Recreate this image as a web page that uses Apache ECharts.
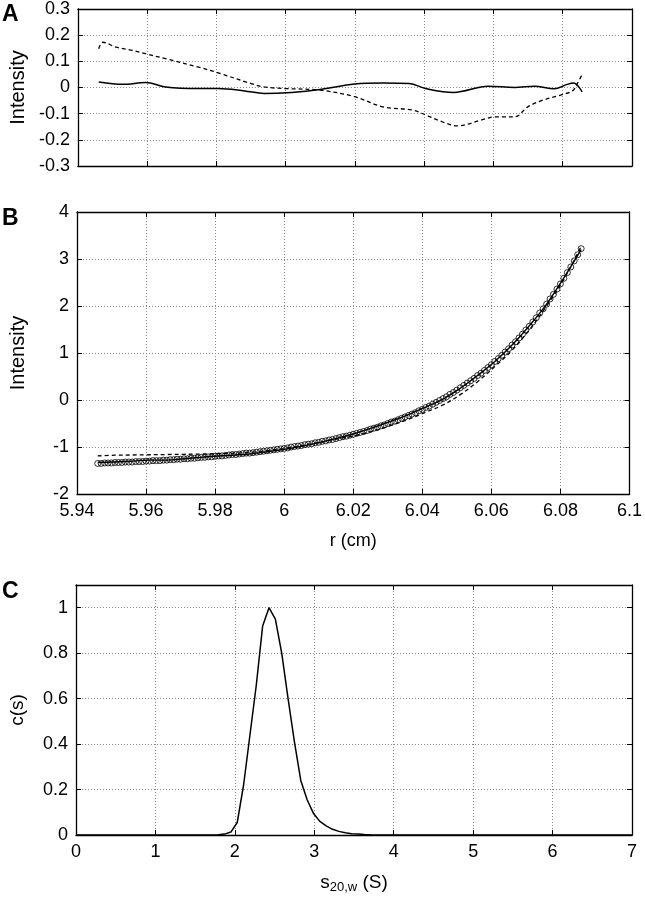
<!DOCTYPE html>
<html>
<head>
<meta charset="utf-8">
<script src="https://cdn.jsdelivr.net/npm/echarts@6/dist/echarts.min.js"></script>
<style>
  html, body { margin: 0; background: #fff; }
  #chart { width: 645px; height: 899px; }
</style>
</head>
<body>
<div id="chart"></div>
<script>
// ---- panel A: residuals of the two fits ----
const residSolidR = [5.946, 5.953, 5.9596, 5.9653, 5.9748, 5.9805, 5.9881, 5.9938, 6.0017, 6.0099, 6.0199,
  6.0281, 6.0357, 6.0404, 6.0485, 6.0585, 6.0661, 6.0718, 6.0775, 6.0813, 6.0831, 6.0856];
const residSolid = [0.021, 0.012, 0.019, 0.002, -0.004, -0.004, -0.013, -0.023, -0.019, -0.008, 0.013,
  0.017, 0.015, -0.004, -0.019, 0.005, 0, 0.005, -0.005, 0.012, 0.017, -0.017];
const residDashR = [5.946, 5.9472, 5.951, 5.9558, 5.9596, 5.9653, 5.9748, 5.9805, 5.99, 5.9938, 6.0, 6.0099,
  6.0199, 6.0281, 6.0366, 6.0404, 6.0452, 6.0495, 6.0566, 6.0604, 6.0661, 6.0699, 6.0737, 6.0794, 6.0828,
  6.0842, 6.0856];
const residDash = [0.148, 0.173, 0.154, 0.142, 0.129, 0.110, 0.078, 0.056, 0.015, 0.002, -0.004, -0.010,
  -0.035, -0.074, -0.086, -0.105, -0.131, -0.147, -0.124, -0.112, -0.112, -0.074, -0.051, -0.029, -0.013,
  0.015, 0.05];

// ---- panel B: scan data (circles) and the two fits ----
const scanR = [
  5.946, 5.947, 5.948, 5.949, 5.950, 5.951, 5.952, 5.953, 5.954, 5.955,
  5.956, 5.957, 5.958, 5.959, 5.960, 5.961, 5.962, 5.963, 5.964, 5.965,
  5.966, 5.967, 5.968, 5.969, 5.970, 5.971, 5.972, 5.973, 5.974, 5.975,
  5.976, 5.977, 5.978, 5.979, 5.980, 5.981, 5.982, 5.983, 5.984, 5.985,
  5.986, 5.987, 5.988, 5.989, 5.990, 5.991, 5.992, 5.993, 5.994, 5.995,
  5.996, 5.997, 5.998, 5.999, 6.000, 6.001, 6.002, 6.003, 6.004, 6.005,
  6.006, 6.007, 6.008, 6.009, 6.010, 6.011, 6.012, 6.013, 6.014, 6.015,
  6.016, 6.017, 6.018, 6.019, 6.020, 6.021, 6.022, 6.023, 6.024, 6.025,
  6.026, 6.027, 6.028, 6.029, 6.030, 6.031, 6.032, 6.033, 6.034, 6.035,
  6.036, 6.037, 6.038, 6.039, 6.040, 6.041, 6.042, 6.043, 6.044, 6.045,
  6.046, 6.047, 6.048, 6.049, 6.050, 6.051, 6.052, 6.053, 6.054, 6.055,
  6.056, 6.057, 6.058, 6.059, 6.060, 6.061, 6.062, 6.063, 6.064, 6.065,
  6.066, 6.067, 6.068, 6.069, 6.070, 6.071, 6.072, 6.073, 6.074, 6.075,
  6.076, 6.077, 6.078, 6.079, 6.080, 6.081, 6.082, 6.083, 6.084, 6.085,
  6.086];
const scanI = [
  -1.35, -1.35, -1.34, -1.34, -1.34, -1.33, -1.33, -1.33, -1.32, -1.32,
  -1.32, -1.31, -1.31, -1.31, -1.30, -1.30, -1.29, -1.29, -1.29, -1.28,
  -1.28, -1.27, -1.27, -1.26, -1.26, -1.25, -1.25, -1.24, -1.24, -1.23,
  -1.22, -1.22, -1.21, -1.21, -1.20, -1.19, -1.19, -1.18, -1.17, -1.16,
  -1.16, -1.15, -1.14, -1.13, -1.13, -1.12, -1.11, -1.10, -1.09, -1.08,
  -1.07, -1.06, -1.05, -1.04, -1.03, -1.02, -1.00, -0.99, -0.98, -0.97,
  -0.95, -0.94, -0.93, -0.91, -0.90, -0.88, -0.87, -0.85, -0.84, -0.82,
  -0.80, -0.78, -0.77, -0.75, -0.73, -0.71, -0.69, -0.67, -0.65, -0.62,
  -0.60, -0.58, -0.55, -0.53, -0.50, -0.47, -0.45, -0.42, -0.39, -0.36,
  -0.33, -0.30, -0.27, -0.23, -0.20, -0.16, -0.13, -0.09, -0.05, -0.01,
  0.03, 0.07, 0.12, 0.16, 0.21, 0.26, 0.31, 0.36, 0.41, 0.46,
  0.52, 0.57, 0.63, 0.69, 0.75, 0.82, 0.88, 0.95, 1.02, 1.09,
  1.17, 1.24, 1.32, 1.40, 1.49, 1.57, 1.66, 1.75, 1.85, 1.94,
  2.04, 2.15, 2.25, 2.36, 2.47, 2.59, 2.71, 2.83, 2.96, 3.09,
  3.22];
const fitR = [5.946, 5.951, 5.956, 5.961, 5.966, 5.971, 5.976, 5.981, 5.986, 5.991, 5.996, 6.001, 6.006,
  6.011, 6.016, 6.021, 6.026, 6.031, 6.036, 6.041, 6.046, 6.051, 6.056, 6.061, 6.066, 6.071, 6.076,
  6.081, 6.086];
const fitSolid = [-1.33, -1.32, -1.30, -1.28, -1.28, -1.25, -1.22, -1.19, -1.17, -1.14, -1.09, -1.04, -0.97,
  -0.89, -0.80, -0.70, -0.58, -0.45, -0.31, -0.15, 0.02, 0.25, 0.52, 0.82, 1.17, 1.58, 2.04,
  2.60, 3.20];
const fitDash = [-1.19, -1.175, -1.17, -1.165, -1.16, -1.155, -1.15, -1.14, -1.13, -1.11, -1.07, -1.02, -0.96,
  -0.89, -0.82, -0.75, -0.66, -0.54, -0.41, -0.26, -0.105, 0.115, 0.39, 0.71, 1.06, 1.49, 2.00,
  2.57, 3.27];

// ---- panel C: c(s) distribution ----
const sVal = [0, 1.71, 1.79, 1.87, 1.95, 2.03, 2.11, 2.19, 2.27, 2.35, 2.43, 2.51, 2.59, 2.67, 2.75, 2.83,
  2.91, 2.99, 3.07, 3.15, 3.23, 3.31, 3.39, 3.47, 3.55, 3.63, 3.71, 3.79, 3.87, 7];
const cVal = [0, 0, 0.001, 0.004, 0.013, 0.055, 0.22, 0.44, 0.66, 0.92, 1.0, 0.95, 0.80, 0.60, 0.41, 0.24,
  0.155, 0.095, 0.06, 0.04, 0.025, 0.016, 0.010, 0.006, 0.004, 0.002, 0.001, 0.0005, 0, 0];

const FONT = "'Liberation Sans Narrow', 'Liberation Sans', Arial, sans-serif";
const TITLE_FONT = "'Liberation Sans', Arial, sans-serif";

const pairs = (xs, ys) => xs.map((x, i) => [x, ys[i]]);

function axis(gridIndex, position, min, max, interval, main, label) {
  return {
    type: 'value',
    gridIndex: gridIndex,
    position: position,
    min: min,
    max: max,
    interval: interval,
    axisLine: { show: true, onZero: false, lineStyle: { color: '#000', width: 1.3 } },
    axisTick: { show: true, inside: true, length: 5, lineStyle: { color: '#000', width: 1 } },
    axisLabel: {
      show: label,
      color: '#000',
      fontSize: 18,
      fontFamily: FONT,
      margin: 8,
      showMaxLabel: !(gridIndex === 2 && (position === 'left'))
    },
    splitLine: { show: main, lineStyle: { color: '#888', type: [1, 2], width: 1 } }
  };
}

const xMain = [
  axis(0, 'bottom', 5.94, 6.1, 0.02, true, false),
  Object.assign(axis(1, 'bottom', 5.94, 6.1, 0.02, true, true), {
    name: 'r (cm)', nameLocation: 'middle', nameGap: 38,
    nameTextStyle: { fontSize: 18, fontFamily: TITLE_FONT, color: '#000' }
  }),
  Object.assign(axis(2, 'bottom', 0, 7, 1, true, true), {
    name: '{s|s}{sub|20,w}{s| (S)}', nameLocation: 'middle', nameGap: 37,
    nameTextStyle: {
      color: '#000',
      rich: {
        s: { fontSize: 19, fontFamily: TITLE_FONT, lineHeight: 22, color: '#000' },
        sub: { fontSize: 13, fontFamily: TITLE_FONT, lineHeight: 12, verticalAlign: 'bottom', color: '#000' }
      }
    }
  })
];
const xMirror = [
  axis(0, 'top', 5.94, 6.1, 0.02, false, false),
  axis(1, 'top', 5.94, 6.1, 0.02, false, false),
  axis(2, 'top', 0, 7, 1, false, false)
];
const yMain = [
  Object.assign(axis(0, 'left', -0.3, 0.3, 0.1, true, true), {
    name: 'Intensity', nameLocation: 'middle', nameGap: 49,
    nameTextStyle: { fontSize: 20, fontFamily: TITLE_FONT, color: '#000' }
  }),
  Object.assign(axis(1, 'left', -2, 4, 1, true, true), {
    name: 'Intensity', nameLocation: 'middle', nameGap: 49,
    nameTextStyle: { fontSize: 20, fontFamily: TITLE_FONT, color: '#000' }
  }),
  Object.assign(axis(2, 'left', 0, 1.1, 0.2, true, true), {
    name: 'c(s)', nameLocation: 'middle', nameGap: 49,
    nameTextStyle: { fontSize: 19, fontFamily: TITLE_FONT, color: '#000' }
  })
];
const yMirror = [
  axis(0, 'right', -0.3, 0.3, 0.1, false, false),
  axis(1, 'right', -2, 4, 1, false, false),
  axis(2, 'right', 0, 1.1, 0.2, false, false)
];

const chart = echarts.init(document.getElementById('chart'));
chart.setOption({
  animation: false,
  backgroundColor: '#fff',
  grid: [
    { left: 71, right: 13, top: 8, height: 158 },
    { left: 71, right: 13, top: 212, height: 282 },
    { left: 71, right: 13, top: 585, height: 250 }
  ],
  xAxis: xMain.concat(xMirror),
  yAxis: yMain.concat(yMirror),
  graphic: [
    { type: 'text', left: 2, top: 3, style: { text: 'A', font: 'bold 23px ' + TITLE_FONT, fill: '#000' } },
    { type: 'text', left: 2, top: 207, style: { text: 'B', font: 'bold 23px ' + TITLE_FONT, fill: '#000' } },
    { type: 'text', left: 2, top: 580, style: { text: 'C', font: 'bold 23px ' + TITLE_FONT, fill: '#000' } }
  ],
  series: [
    {
      name: 'residual fit 1', type: 'line', xAxisIndex: 0, yAxisIndex: 0,
      data: pairs(residSolidR, residSolid), smooth: 0.35, showSymbol: false,
      lineStyle: { color: '#000', width: 1.5 }
    },
    {
      name: 'residual fit 2', type: 'line', xAxisIndex: 0, yAxisIndex: 0,
      data: pairs(residDashR, residDash), smooth: 0.35, showSymbol: false,
      lineStyle: { color: '#000', width: 1.3, type: [4, 3] }
    },
    {
      name: 'data', type: 'scatter', xAxisIndex: 1, yAxisIndex: 1,
      data: pairs(scanR, scanI), symbol: 'circle', symbolSize: 6,
      itemStyle: { color: 'rgba(255,255,255,0)', borderColor: '#000', borderWidth: 1 }
    },
    {
      name: 'fit 1', type: 'line', xAxisIndex: 1, yAxisIndex: 1,
      data: pairs(fitR, fitSolid), smooth: 0.4, showSymbol: false,
      lineStyle: { color: '#000', width: 1.4 }
    },
    {
      name: 'fit 2', type: 'line', xAxisIndex: 1, yAxisIndex: 1,
      data: pairs(fitR, fitDash), smooth: 0.4, showSymbol: false,
      lineStyle: { color: '#000', width: 1.3, type: [4, 3] }
    },
    {
      name: 'c(s)', type: 'line', xAxisIndex: 2, yAxisIndex: 2,
      data: pairs(sVal, cVal), showSymbol: false,
      lineStyle: { color: '#000', width: 1.5 }
    }
  ]
});
</script>
</body>
</html>
